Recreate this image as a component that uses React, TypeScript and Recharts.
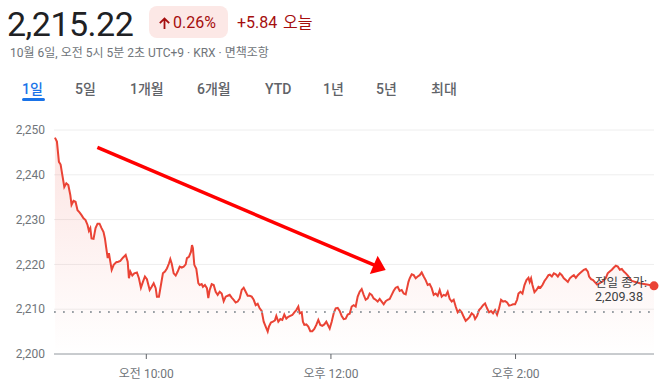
import React from 'react';
import {
  ComposedChart,
  Area,
  XAxis,
  YAxis,
  CartesianGrid,
  ReferenceLine,
  ReferenceDot,
} from 'recharts';

// minutes since 09:00 (KRX session 09:00 - 15:30)
const times = [
  0.6, 1.9, 3.2, 4.3, 5.4, 6.7, 8.0, 9.3, 10.6, 11.4,
  12.7, 14.0, 15.3, 16.6, 17.9, 19.2, 20.5, 21.8, 22.7, 23.6,
  24.4, 25.7, 27.0, 28.3, 29.6, 30.9, 32.2, 33.1, 34.0, 34.9,
  35.7, 36.6, 37.5, 38.8, 40.5, 41.8, 43.1, 44.8, 46.6, 47.9,
  48.7, 49.6, 50.9, 52.2, 53.9, 55.2, 56.5, 57.8, 59.1, 60.4,
  62.2, 63.5, 64.8, 66.1, 66.9, 68.2, 69.5, 70.8, 72.1, 73.4,
  74.7, 75.6, 76.5, 77.8, 79.1, 80.4, 81.7, 83.0, 84.3, 85.6,
  86.4, 87.7, 89.0, 89.7, 90.3, 91.2, 92.5, 93.8, 94.7, 96.0,
  96.8, 98.1, 99.4, 100.3, 101.2, 102.5, 103.8, 105.1, 106.4, 107.7,
  109.0, 110.3, 111.6, 112.9, 114.2, 115.5, 116.8, 118.1, 119.4, 120.7,
  122.0, 123.3, 124.6, 125.9, 127.2, 128.5, 129.8, 131.1, 132.4, 133.7,
  135.0, 136.3, 137.6, 138.9, 139.7, 141.0, 142.3, 143.6, 144.5, 145.8,
  147.1, 148.4, 149.7, 151.0, 152.3, 153.6, 154.9, 156.2, 157.5, 158.8,
  159.7, 161.0, 161.8, 162.7, 164.0, 165.3, 166.6, 167.9, 169.2, 170.5,
  171.8, 173.1, 174.4, 175.7, 177.0, 178.3, 179.2, 180.5, 181.8, 183.1,
  184.4, 185.7, 187.0, 188.3, 189.6, 190.9, 192.2, 193.5, 194.8, 196.1,
  197.4, 198.7, 200.0, 201.3, 202.6, 203.9, 205.2, 206.5, 207.8, 209.1,
  210.4, 211.7, 213.0, 214.3, 215.6, 216.9, 218.2, 219.5, 220.8, 222.1,
  223.4, 224.7, 226.0, 227.3, 228.6, 229.5, 230.4, 231.2, 232.5, 233.8,
  235.1, 236.4, 237.7, 239.0, 240.3, 241.6, 242.9, 244.2, 245.5, 246.8,
  248.1, 249.4, 250.7, 252.0, 253.3, 254.6, 255.9, 257.2, 258.5, 259.8,
  261.1, 262.4, 263.7, 265.0, 266.3, 267.6, 268.9, 270.2, 271.5, 272.8,
  273.7, 275.0, 276.3, 277.6, 278.9, 280.2, 281.5, 282.8, 284.1, 285.4,
  286.7, 288.0, 289.3, 290.6, 291.9, 293.2, 294.5, 295.8, 297.1, 298.4,
  299.7, 301.0, 301.9, 303.2, 304.5, 305.8, 307.1, 308.4, 309.2, 310.1,
  311.0, 312.3, 313.6, 314.9, 316.2, 317.5, 318.8, 320.1, 321.4, 322.3,
  323.6, 324.9, 326.2, 327.5, 328.8, 330.1, 331.4, 332.7, 334.0, 335.3,
  336.6, 337.9, 339.2, 340.5, 341.8, 343.1, 344.4, 345.7, 347.0, 347.8,
  349.1, 350.4, 351.7, 353.0, 354.7, 356.9, 358.6, 359.9, 361.2, 362.6,
  363.9, 365.2, 366.5, 367.8, 369.1, 370.4, 371.7, 373.0, 374.3, 375.6,
  380.8, 390,
];

const prices = [
  2248.3, 2247.4, 2242.9, 2242.3, 2240.0, 2237.3, 2238.1, 2237.7, 2235.5, 2233.3,
  2234.2, 2234.0, 2232.1, 2231.6, 2231.0, 2230.3, 2229.9, 2228.8, 2227.5, 2228.1,
  2225.8, 2225.7, 2228.1, 2229.1, 2229.1, 2228.1, 2227.2, 2225.8, 2223.6, 2221.4,
  2222.5, 2220.6, 2218.8, 2219.9, 2220.5, 2220.6, 2220.8, 2221.5, 2222.1, 2220.6,
  2216.9, 2218.4, 2217.5, 2218.0, 2218.2, 2216.9, 2214.8, 2216.1, 2217.3, 2216.7,
  2214.3, 2215.0, 2215.8, 2214.7, 2212.8, 2212.8, 2215.4, 2218.0, 2218.4, 2219.1,
  2220.2, 2221.2, 2220.2, 2218.0, 2217.5, 2218.4, 2219.5, 2219.3, 2219.5, 2220.0,
  2221.4, 2221.7, 2222.8, 2224.3, 2223.6, 2219.9, 2219.0, 2215.8, 2215.4, 2215.6,
  2215.0, 2215.4, 2214.7, 2212.5, 2214.3, 2215.6, 2215.4, 2213.9, 2213.2, 2213.9,
  2213.5, 2211.8, 2212.8, 2213.0, 2213.2, 2212.6, 2212.1, 2211.5, 2211.7, 2212.4,
  2214.3, 2214.8, 2213.9, 2213.0, 2213.0, 2212.8, 2212.1, 2210.9, 2211.2, 2210.2,
  2209.6, 2207.2, 2206.1, 2205.0, 2206.1, 2207.0, 2207.2, 2207.5, 2208.5, 2207.2,
  2207.8, 2207.6, 2208.8, 2207.9, 2208.3, 2208.5, 2208.7, 2209.3, 2209.8, 2210.6,
  2209.1, 2209.3, 2207.2, 2206.5, 2206.6, 2206.1, 2205.1, 2205.1, 2205.6, 2206.5,
  2207.6, 2206.5, 2206.3, 2206.6, 2207.2, 2206.3, 2205.7, 2207.2, 2209.1, 2210.2,
  2210.3, 2209.6, 2208.5, 2207.8, 2207.9, 2208.8, 2209.0, 2210.6, 2210.9, 2210.6,
  2212.8, 2213.9, 2214.5, 2213.2, 2212.1, 2212.4, 2213.5, 2213.2, 2212.4, 2212.1,
  2211.7, 2212.3, 2211.7, 2211.1, 2211.8, 2212.1, 2212.3, 2213.2, 2214.1, 2214.8,
  2215.0, 2214.1, 2214.3, 2213.5, 2213.3, 2214.7, 2216.1, 2216.9, 2217.8, 2217.6,
  2216.9, 2217.3, 2217.6, 2218.2, 2217.3, 2216.5, 2215.4, 2215.6, 2214.7, 2213.2,
  2213.5, 2213.0, 2214.3, 2212.8, 2213.2, 2213.0, 2213.9, 2212.3, 2211.7, 2212.1,
  2210.6, 2209.3, 2209.8, 2209.3, 2208.3, 2207.4, 2207.8, 2208.3, 2209.1, 2208.7,
  2207.8, 2208.5, 2209.8, 2210.3, 2210.9, 2211.3, 2210.2, 2209.3, 2209.6, 2209.1,
  2209.8, 2208.8, 2210.2, 2212.1, 2211.7, 2211.8, 2211.5, 2210.8, 2210.9, 2211.1,
  2211.1, 2212.1, 2213.5, 2213.9, 2213.5, 2215.4, 2216.5, 2217.0, 2216.1, 2216.9,
  2215.4, 2213.8, 2214.3, 2215.0, 2214.8, 2215.4, 2216.3, 2216.9, 2217.6, 2217.7,
  2217.3, 2218.0, 2217.8, 2217.3, 2218.0, 2217.6, 2216.9, 2216.5, 2216.1, 2216.9,
  2217.3, 2217.6, 2217.0, 2217.6, 2218.0, 2218.4, 2218.8, 2219.0, 2218.4, 2217.3,
  2216.7, 2216.5, 2216.0, 2215.5, 2215.8, 2216.3, 2216.9, 2218.0, 2218.4, 2218.8,
  2219.3, 2219.7, 2219.5, 2218.8, 2219.0, 2218.4, 2218.0, 2217.5, 2216.9, 2216.3,
  2215.8, 2215.22,
];

const yTicks = [2200, 2210, 2220, 2230, 2240, 2250];
const xTicks = [60, 180, 300];
const xTickLabels = ['오전 10:00', '오후 12:00', '오후 2:00'];
const prevClose = 2209.38;
const lastPrice = 2215.22;
const lastTime = 390;
const priceText = '2,215.22';
const pctText = '0.26%';
const changeText = '+5.84';
const todayText = '오늘';
const subtitle = '10월 6일, 오전 5시 5분 2초 UTC+9 · KRX · 면책조항';
const tabs = ['1일', '5일', '1개월', '6개월', 'YTD', '1년', '5년', '최대'];
const tabX = [22, 75, 130, 197, 265, 323, 376, 431];
const arrowStart = { t: 28.2, v: 2246.1 };
const arrowEnd = { t: 215.6, v: 2218.75 };

const data = times.map((t, i) => ({ t, price: prices[i] }));

const FONT = "Roboto, 'Noto Sans CJK KR', 'Noto Sans', sans-serif";
const RED = '#ea4335';

const ArrowShape = (props: any) => {
  const { x1, y1, x2, y2 } = props;
  const dx = x2 - x1;
  const dy = y2 - y1;
  const len = Math.hypot(dx, dy) || 1;
  const ux = dx / len;
  const uy = dy / len;
  const headLen = 13;
  const headW = 10;
  const bx = x2 - ux * headLen;
  const by = y2 - uy * headLen;
  const px = -uy;
  const py = ux;
  return (
    <g>
      <line x1={x1} y1={y1} x2={bx + ux * 2} y2={by + uy * 2} stroke="#ff0000" strokeWidth={3.5} />
      <polygon
        points={`${x2},${y2} ${bx + px * headW},${by + py * headW} ${bx - px * headW},${by - py * headW}`}
        fill="#ff0000"
      />
    </g>
  );
};

const PrevCloseLabel = (props: any) => {
  const vb = props.viewBox || {};
  const x = vb.x + vb.width - 59;
  const y = vb.y;
  return (
    <g>
      <text x={x} y={y - 25} fontSize={12.5} fill="#3c4043" fontFamily={FONT}>
        전일 종가:
      </text>
      <text x={x} y={y - 11} fontSize={12.5} fill="#3c4043" fontFamily={FONT}>
        {prevClose.toLocaleString('en-US', { minimumFractionDigits: 2 })}
      </text>
    </g>
  );
};

export default function App() {
  return (
    <div
      style={{
        position: 'absolute',
        left: 0,
        top: 0,
        width: 667,
        height: 384,
        background: '#fff',
        overflow: 'hidden',
        fontFamily: FONT,
      }}
    >
      <svg
        width={667}
        height={110}
        style={{ position: 'absolute', left: 0, top: 0 }}
        fontFamily={FONT}
      >
        <text x={7} y={36} fontSize={34} fill="#202124" letterSpacing={-0.5}>
          {priceText}
        </text>
        <rect x={149} y={6} width={79} height={32} rx={8} fill="#fce8e6" />
        <path
          d="M164.5 29 V18.5 M159.8 23.2 L164.5 18.5 L169.2 23.2"
          stroke="#a50e0e"
          strokeWidth={1.8}
          fill="none"
        />
        <text x={173} y={28} fontSize={16} fill="#a50e0e">
          {pctText}
        </text>
        <text x={237} y={28} fontSize={16} fill="#a50e0e">
          {changeText}
        </text>
        <text x={283} y={28} fontSize={16} fill="#a50e0e">
          {todayText}
        </text>
        <text x={10} y={57} fontSize={12} fill="#70757a">
          {subtitle}
        </text>
        {tabs.map((tb, i) => (
          <text
            key={tb}
            x={tabX[i]}
            y={94}
            fontSize={14}
            fontWeight={500}
            fill={i === 0 ? '#1a73e8' : '#5f6368'}
          >
            {tb}
          </text>
        ))}
        <rect x={22} y={98} width={23} height={3} rx={1.5} fill="#1a73e8" />
      </svg>

      <div style={{ position: 'absolute', left: 0, top: 0 }}>
        <ComposedChart
          width={667}
          height={384}
          data={data}
          margin={{ top: 130, right: 13, bottom: 0, left: 0 }}
        >
          <defs>
            <linearGradient id="fillGrad" x1="0" y1="0" x2="0" y2="1">
              <stop offset="0%" stopColor={RED} stopOpacity={0.24} />
              <stop offset="100%" stopColor={RED} stopOpacity={0} />
            </linearGradient>
          </defs>
          <CartesianGrid vertical={false} stroke="#eeeeee" />
          <XAxis
            dataKey="t"
            type="number"
            domain={[0, 390]}
            ticks={xTicks}
            tickFormatter={(v: number) => xTickLabels[xTicks.indexOf(v)] || ''}
            height={30}
            axisLine={{ stroke: '#9aa0a6' }}
            tickLine={{ stroke: '#5f6368' }}
            tickSize={5}
            tickMargin={10}
            tick={{ fontSize: 12, fill: '#70757a' }}
            allowDataOverflow
          />
          <YAxis
            domain={[2200, 2250]}
            ticks={yTicks}
            width={54}
            axisLine={false}
            tickLine={false}
            tickSize={0}
            tickMargin={9}
            tick={{ fontSize: 12, fill: '#70757a' }}
            tickFormatter={(v: number) => v.toLocaleString('en-US')}
            allowDataOverflow
          />
          <ReferenceLine
            y={prevClose}
            stroke="#9aa0a6"
            strokeWidth={1.8}
            strokeDasharray="1.8 7.2"
          />
          <Area
            type="linear"
            dataKey="price"
            stroke={RED}
            strokeWidth={2}
            fill="url(#fillGrad)"
            isAnimationActive={false}
            dot={false}
            activeDot={false}
          />
          <ReferenceLine
            y={prevClose}
            stroke="none"
            label={(p: any) => <PrevCloseLabel {...p} />}
          />
          <ReferenceDot
            x={lastTime}
            y={lastPrice}
            r={4.5}
            fill={RED}
            stroke="none"
            ifOverflow="visible"
          />
          <ReferenceLine
            segment={[
              { x: arrowStart.t, y: arrowStart.v },
              { x: arrowEnd.t, y: arrowEnd.v },
            ]}
            ifOverflow="visible"
            shape={(p: any) => <ArrowShape {...p} />}
          />
        </ComposedChart>
      </div>
    </div>
  );
}
